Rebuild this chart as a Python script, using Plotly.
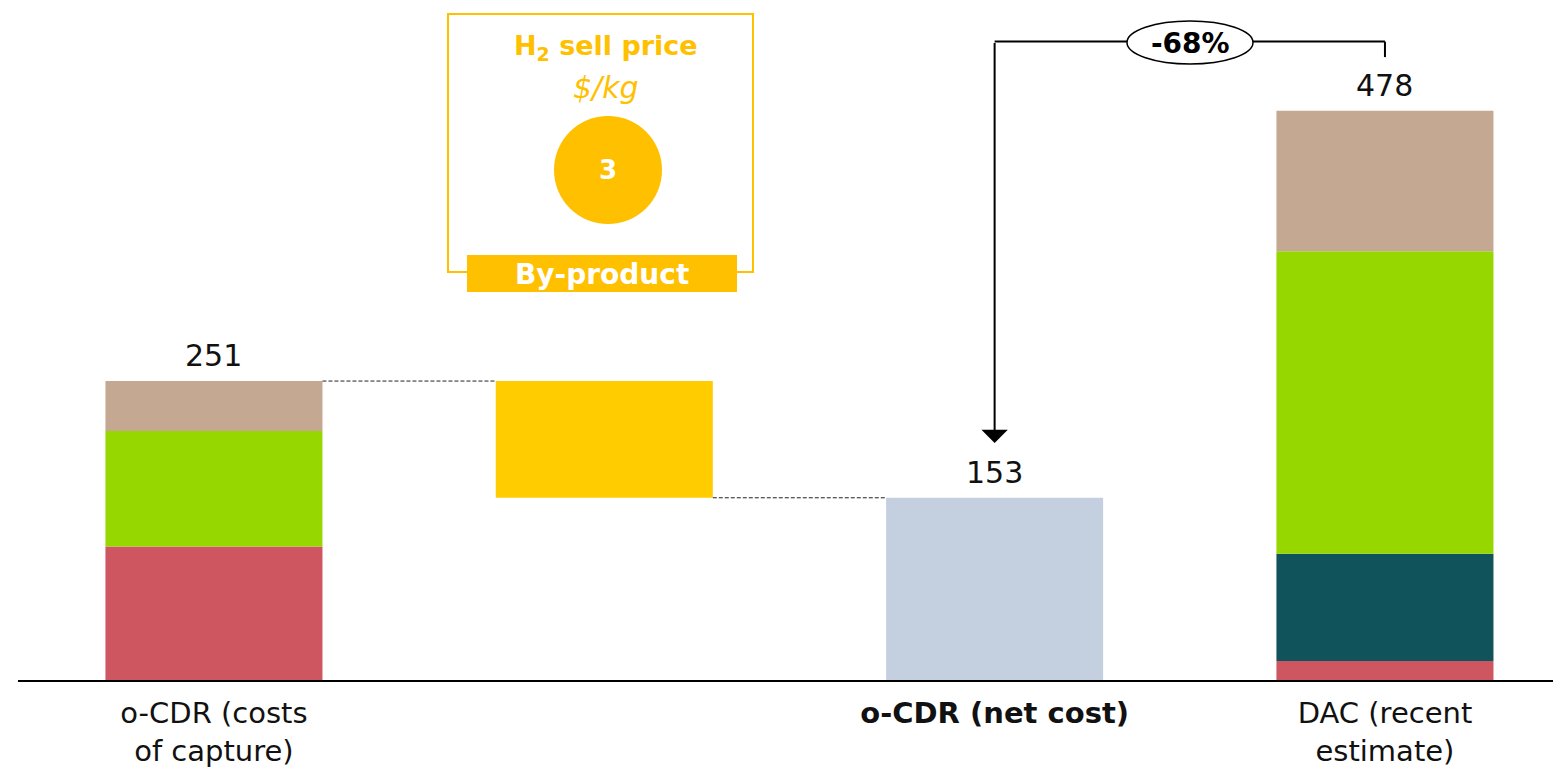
import plotly.graph_objects as go

# ---- data ----
categories = ["o-CDR (costs<br>of capture)", "", "<b>o-CDR (net cost)</b>", "DAC (recent<br>estimate)"]
segment_names = ["Energy", "Sorbent", "Capex", "Other"]
segment_colors = ["#CD5660", "#10535A", "#97D700", "#C4A892"]
ocdr_capture = [112, 0, 97, 42]      # red, teal, green, tan
dac_estimate = [16, 90, 254, 118]
h2_byproduct = 98
ocdr_net = 153
h2_price = 3

totals = [sum(ocdr_capture), sum(dac_estimate)]
xpos = list(range(len(categories)))
W = 0.556
FONT = "DejaVu Sans"

# page offset compensation (body margin 8px)
PL, PT = 18, 8          # plot-area left and top on the page
PW, PH = 1543, 672      # plot-area width, height


def px(xp):
    return (xp - PL) / PW


def py(yp):
    return (PT + PH - yp) / PH


fig = go.Figure()

for i, name in enumerate(segment_names):
    vals = [ocdr_capture[i], dac_estimate[i]]
    bases = [sum(ocdr_capture[:i]), sum(dac_estimate[:i])]
    fig.add_trace(go.Bar(x=[xpos[0], xpos[3]], y=vals, base=bases, width=W,
                         marker=dict(color=segment_colors[i], line=dict(width=0)),
                         name=name, showlegend=False, hoverinfo="skip"))

fig.add_trace(go.Bar(x=[xpos[1]], y=[h2_byproduct], base=[totals[0] - h2_byproduct], width=W,
                     marker=dict(color="#FFCC00", line=dict(width=0)), showlegend=False))
fig.add_trace(go.Bar(x=[xpos[2]], y=[ocdr_net], width=W,
                     marker=dict(color="#C4CFE0", line=dict(width=0)), showlegend=False))

for x, v in [(xpos[0], totals[0]), (xpos[2], ocdr_net), (xpos[3], totals[1])]:
    fig.add_annotation(x=x, y=v, text=str(v), showarrow=False, yanchor="bottom", yshift=6,
                       font=dict(family=FONT, size=30, color="#111111"))

fig.add_shape(type="line", x0=xpos[0] + W / 2, x1=xpos[1] - W / 2, y0=totals[0], y1=totals[0],
              line=dict(color="#222222", width=1, dash="4px,2px"))
fig.add_shape(type="line", x0=xpos[1] + W / 2, x1=xpos[2] - W / 2, y0=ocdr_net, y1=ocdr_net,
              line=dict(color="#222222", width=1, dash="4px,2px"))

# bracket with percentage
yb = 536
fig.add_shape(type="line", x0=xpos[2], x1=xpos[3], y0=yb, y1=yb, line=dict(color="black", width=2))
fig.add_shape(type="line", x0=xpos[3], x1=xpos[3], y0=yb, y1=yb - 13, line=dict(color="black", width=2))
fig.add_annotation(x=xpos[2], y=199, ax=xpos[2], ay=yb, xref="x", yref="y", axref="x", ayref="y",
                   text="", showarrow=True, arrowhead=1, arrowsize=2.2, arrowwidth=2, arrowcolor="black")
pct = round((ocdr_net - totals[1]) / totals[1] * 100)
fig.add_shape(type="circle", xref="paper", yref="paper", x0=px(1127), x1=px(1253), y0=py(64), y1=py(21),
              fillcolor="white", line=dict(color="black", width=1.5))
fig.add_annotation(xref="paper", yref="paper", x=px(1190), y=py(43), xanchor="center", yanchor="middle",
                   text=f"<b>{pct}%</b>", showarrow=False, font=dict(family=FONT, size=28, color="black"))

# H2 sell price box
Y = "#FFC000"
fig.add_shape(type="rect", xref="paper", yref="paper", x0=px(448), x1=px(753), y0=py(272), y1=py(14),
              line=dict(color=Y, width=2), fillcolor="rgba(0,0,0,0)")
fig.add_annotation(xref="paper", yref="paper", x=px(606), y=py(47), xanchor="center", yanchor="middle",
                   text="<b>H<sub>2</sub> sell price</b>", showarrow=False,
                   font=dict(family=FONT, size=27, color=Y))
fig.add_annotation(xref="paper", yref="paper", x=px(606), y=py(87), xanchor="center", yanchor="middle",
                   text="<i>$/kg</i>", showarrow=False, font=dict(family=FONT, size=30, color=Y))
fig.add_shape(type="circle", xref="paper", yref="paper", x0=px(554), x1=px(662), y0=py(224), y1=py(116),
              fillcolor=Y, line=dict(color=Y, width=0))
fig.add_annotation(xref="paper", yref="paper", x=px(608), y=py(170), xanchor="center", yanchor="middle",
                   text=f"<b>{h2_price}</b>", showarrow=False, font=dict(family=FONT, size=26, color="white"))
fig.add_shape(type="rect", xref="paper", yref="paper", x0=px(467), x1=px(737), y0=py(292), y1=py(255),
              fillcolor=Y, line=dict(width=0))
fig.add_annotation(xref="paper", yref="paper", x=px(602), y=py(274), xanchor="center", yanchor="middle",
                   text="<b>By-product</b>", showarrow=False, font=dict(family=FONT, size=28, color="white"))

fig.update_layout(
    width=1553, height=764, barmode="overlay",
    margin=dict(l=10, r=0, t=0, b=92),
    paper_bgcolor="white", plot_bgcolor="white",
    showlegend=False,
    xaxis=dict(range=[-0.502, 3.451], tickvals=xpos, ticktext=categories, showline=True,
               linecolor="black", linewidth=2, showgrid=False, zeroline=False,
               ticks="outside", ticklen=6, tickcolor="rgba(0,0,0,0)",
               tickfont=dict(family=FONT, size=29, color="#111111"), fixedrange=True),
    yaxis=dict(range=[0, PH / 1.191], visible=False, showgrid=False, zeroline=False, fixedrange=True),
)

fig.write_html("out.html")
